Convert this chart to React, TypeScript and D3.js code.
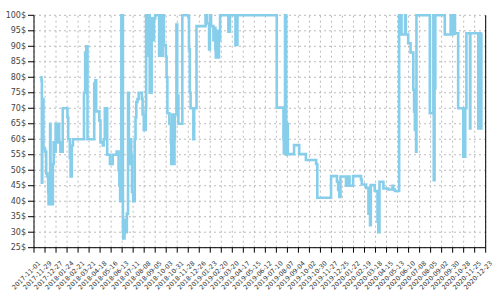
import React from "react";
import * as d3 from "d3";

const priceDates: string[] = [
  "2017-11-17","2017-11-20","2017-11-21","2017-11-22","2017-11-25","2017-11-29","2017-12-02","2017-12-05","2017-12-07","2017-12-08",
  "2017-12-12","2017-12-13","2017-12-18","2017-12-19","2017-12-21","2017-12-24","2017-12-26","2017-12-29","2018-01-02","2018-01-04",
  "2018-01-07","2018-01-13","2018-01-25","2018-01-27","2018-01-31","2018-02-02","2018-02-05","2018-02-08","2018-03-08","2018-03-11",
  "2018-03-14","2018-03-17","2018-04-03","2018-04-06","2018-04-08","2018-04-16","2018-04-19","2018-04-25","2018-04-27","2018-04-30",
  "2018-05-06","2018-05-13","2018-05-20","2018-05-30","2018-06-04","2018-06-06","2018-06-08","2018-06-11","2018-06-15","2018-06-16",
  "2018-06-19","2018-06-23","2018-06-25","2018-06-28","2018-06-30","2018-07-04","2018-07-06","2018-07-08","2018-07-11","2018-07-15",
  "2018-07-17","2018-07-19","2018-07-22","2018-07-25","2018-08-02","2018-08-04","2018-08-07","2018-08-12","2018-08-13","2018-08-16",
  "2018-08-18","2018-08-22","2018-08-27","2018-08-29","2018-09-02","2018-09-05","2018-09-15","2018-09-18","2018-09-21","2018-09-24",
  "2018-09-27","2018-10-02","2018-10-04","2018-10-06","2018-10-11","2018-10-15","2018-10-16","2018-10-18","2018-10-19","2018-10-21",
  "2018-10-23","2018-10-24","2018-10-25","2018-10-29","2018-10-31","2018-11-03","2018-11-13","2018-11-28","2018-11-30","2018-12-02",
  "2018-12-04","2018-12-11","2018-12-13","2018-12-19","2019-01-11","2019-01-14","2019-01-20","2019-01-22","2019-01-25","2019-01-31",
  "2019-02-04","2019-02-05","2019-02-06","2019-02-09","2019-02-12","2019-02-14","2019-02-17","2019-03-10","2019-03-14","2019-03-28",
  "2019-04-02","2019-07-11","2019-07-28","2019-07-29","2019-08-01","2019-08-04","2019-08-06","2019-08-08","2019-08-24","2019-09-06",
  "2019-09-23","2019-10-19","2019-10-22","2019-11-26","2019-12-11","2019-12-14","2019-12-17","2019-12-20","2020-01-03","2020-01-05",
  "2020-01-07","2020-01-10","2020-01-12","2020-01-21","2020-02-10","2020-02-12","2020-02-23","2020-02-29","2020-03-04","2020-03-06",
  "2020-03-16","2020-03-23","2020-03-25","2020-03-28","2020-04-07","2020-04-19","2020-04-30","2020-05-02","2020-05-06","2020-05-17",
  "2020-05-23","2020-06-01","2020-06-03","2020-06-09","2020-06-15","2020-06-22","2020-06-24","2020-06-26","2020-06-29","2020-06-30",
  "2020-08-03","2020-08-12","2020-08-13","2020-08-15","2020-08-17","2020-09-10","2020-09-25","2020-09-27","2020-09-30","2020-10-02",
  "2020-10-05","2020-10-06","2020-10-14","2020-10-27","2020-10-29","2020-10-30","2020-11-01","2020-11-04","2020-11-13","2020-11-14",
  "2020-12-04","2020-12-07","2020-12-09","2020-12-12","2020-12-14",
];

const prices: number[] = [
  80,79,46,73,57,56,49,48,43,39,
  65,42,39,52,59,56,65,59,65,59,
  56,70,67,60,54,48,58,60,75,88,
  90,60,78,79,69,66,59,58,60,70,
  55,52,55,56,50,45,40,100,30,28,
  34,30,36,75,52,60,55,43,40,60,
  67,72,73,75,73,68,63,70,100,87,
  100,75,99,92,99,100,87,100,87,100,
  90.4,86.7,80,68.4,65,58.7,52,68,55,66,
  52,60,68,97,74,65,100,99.5,89,75,
  70,60,70,96.5,100,97.4,89,100,96.5,92,
  96,89,86.4,95,86.4,92,100,94.7,100,90.4,
  100,70.2,60,55.4,100,55,65,55.2,58.1,55.2,
  53.3,52,41.1,48.1,46.3,43.6,41.4,48,45,48,
  45,48,45,48.1,47,45.4,44.3,36,32.3,45.2,
  43.3,33.4,30,46.3,44.1,43.8,45,43.8,43.3,100,
  93.8,100,93.8,91,88,76,69,63,56,100,
  68.4,100,46.8,76.4,100,93.8,100,93.8,100,94,
  100,94.2,70,54.4,70,54.4,70,94.2,63.5,94.2,
  63.5,94.2,63.5,94.2,94.2,
];

const xTickLabels: string[] = [
  "2017-11-01","2017-11-29","2017-12-27","2018-01-24","2018-02-21","2018-03-21","2018-04-18","2018-05-16","2018-06-13","2018-07-11",
  "2018-08-08","2018-09-05","2018-10-03","2018-10-31","2018-11-28","2018-12-26","2019-01-23","2019-02-20","2019-03-20","2019-04-17",
  "2019-05-15","2019-06-12","2019-07-10","2019-08-07","2019-09-04","2019-10-02","2019-10-30","2019-11-27","2019-12-25","2020-01-22",
  "2020-02-19","2020-03-18","2020-04-15","2020-05-13","2020-06-10","2020-07-08","2020-08-05","2020-09-02","2020-09-30","2020-10-28",
  "2020-11-25","2020-12-23",
];

const yTicks: number[] = [25,30,35,40,45,50,55,60,65,70,75,80,85,90,95,100];

const W = 500, H = 300;
const M = { left: 34, top: 15.3, right: 14.3, bottom: 52.3 };

export default function App() {
  const parse = d3.utcParse("%Y-%m-%d");
  const tickDates = xTickLabels.map((s) => parse(s) as Date);
  const x = d3.scaleUtc()
    .domain([tickDates[0], tickDates[tickDates.length - 1]])
    .range([M.left, W - M.right]);
  const y = d3.scaleLinear().domain([25, 100]).range([H - M.bottom, M.top]);

  const data = priceDates.map((d, i) => ({ date: parse(d) as Date, v: prices[i] }));
  const line = d3.line<{ date: Date; v: number }>()
    .x((d) => x(d.date))
    .y((d) => y(d.v))
    .curve(d3.curveStepAfter);

  const font = "'DejaVu Sans', Verdana, sans-serif";
  const y0 = y.range()[0], y1 = y.range()[1];
  const x0 = x.range()[0], x1 = x.range()[1];

  return (
    <svg width={W} height={H} style={{ position: "absolute", left: 0, top: 0, background: "#fff" }}>
      <g stroke="#bbb" strokeWidth={1} strokeDasharray="2,3">
        {yTicks.map((t) => (
          <line key={"gy" + t} x1={x0} x2={x1} y1={y(t)} y2={y(t)} />
        ))}
        {tickDates.map((d, i) => (
          <line key={"gx" + i} x1={x(d)} x2={x(d)} y1={y0} y2={y1} />
        ))}
      </g>
      <path d={line(data) || ""} fill="none" stroke="#87ceeb" strokeWidth={2.6} />
      <g stroke="#000" strokeWidth={1}>
        <line x1={x0} x2={x0} y1={y1} y2={y0} />
        <line x1={x1} x2={x1} y1={y1} y2={y0} />
        <line x1={x0} x2={x1} y1={y0} y2={y0} />
        {yTicks.map((t) => (
          <line key={"ty" + t} x1={x0 - 6} x2={x0} y1={y(t)} y2={y(t)} />
        ))}
        {tickDates.map((d, i) => (
          <line key={"tx" + i} x1={x(d)} x2={x(d)} y1={y0} y2={y0 + 5} />
        ))}
      </g>
      <g fontFamily={font} fontSize={8} fill="#444">
        {yTicks.map((t) => (
          <text key={"ly" + t} x={x0 - 8} y={y(t)} dy="0.32em" textAnchor="end">
            {t + "$"}
          </text>
        ))}
        {tickDates.map((d, i) => (
          <text
            key={"lx" + i}
            textAnchor="end"
            transform={`translate(${x(d) + 7},${y0 + 16}) rotate(-45)`}
            fontSize={6.4}
            fill="#333"
          >
            {xTickLabels[i]}
          </text>
        ))}
      </g>
    </svg>
  );
}
